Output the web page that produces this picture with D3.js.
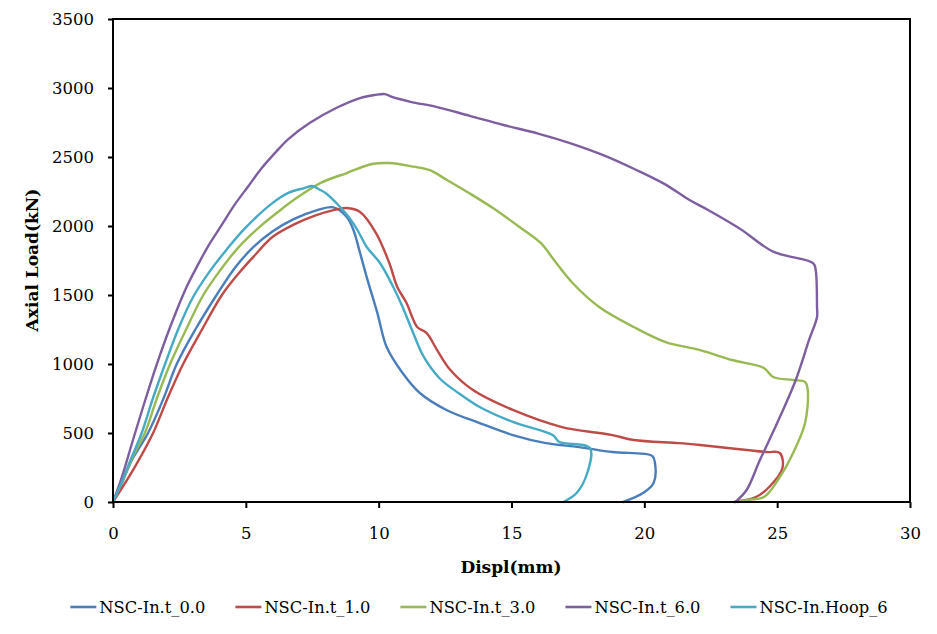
<!DOCTYPE html>
<html><head><meta charset="utf-8">
<script src="https://cdn.jsdelivr.net/npm/d3@7/dist/d3.min.js"></script>
<style>body{margin:0;background:#fff}svg{display:block}</style>
</head><body>
<svg id="c" width="937" height="634"></svg>
<script>
// ---- data ----
const seriesNames = ["NSC-In.t_0.0","NSC-In.t_1.0","NSC-In.t_3.0","NSC-In.t_6.0","NSC-In.Hoop_6"];
const xTicks = [0,5,10,15,20,25,30];
const yTicks = [0,500,1000,1500,2000,2500,3000,3500];

const displ_t00 = [0,0.3,0.7,1.32,1.9,2.4,3.1,3.9,4.6,5.3,6.0,6.8,7.6,8.3,8.8,9.05,9.3,9.55,9.95,10.3,10.9,11.55,12.55,13.8,15.05,16.3,17.55,18.8,20.3,20.4,20.35,19.95,19.2];
const load_t00  = [0,120,300,500,750,1000,1250,1500,1700,1850,1960,2050,2110,2135,2065,1971,1804,1630,1370,1123,935,790,667,572,485,427,398,362,333,283,138,65,0];

const displ_t10 = [0,0.4,0.9,1.51,2.05,2.64,3.35,4.1,4.7,5.3,6.0,6.8,7.6,8.3,8.8,9.3,9.9,10.4,10.7,11.05,11.45,11.8,12.2,12.7,13.55,15.05,16.9,18.3,18.8,19.6,21.3,22.1,23.85,24.6,25.1,25.2,24.7,24.2,23.6,23.4];
const load_t10  = [0,120,280,500,750,1000,1250,1500,1650,1780,1920,2010,2075,2115,2130,2101,1949,1732,1558,1442,1268,1225,1101,956,811,667,543,500,485,449,427,413,377,362,355,246,109,36,7,0];

const displ_t30 = [0,0.35,0.75,1.2,1.65,2.15,2.75,3.4,4.0,4.7,5.5,6.2,6.8,7.8,8.8,9.75,10.4,11.3,11.9,12.6,13.4,14.3,15.3,16.1,16.6,17.3,18.3,19.6,20.8,22.1,23.3,24.5,24.85,25.6,26.05,26.15,26.05,25.6,25.1,24.5,23.85,23.5];
const load_t30  = [0,150,330,500,750,1000,1250,1500,1670,1840,1990,2100,2188,2311,2384,2449,2456,2430,2406,2330,2239,2130,1993,1877,1754,1587,1413,1268,1159,1101,1029,971,906,884,870,812,572,355,181,36,14,0];

const displ_t60 = [0,0.3,0.8,1.2,1.6,2.0,2.4,2.8,3.2,3.6,4.1,4.6,5.1,5.6,6.1,6.6,7.4,8.4,9.3,9.85,10.24,10.5,11.2,12.2,13.4,14.7,16.0,17.2,18.5,19.7,20.8,21.7,22.4,23.6,24.85,26.36,26.45,26.5,26.5,26.2,25.7,25.0,24.35,23.85,23.5,23.4];
const load_t60  = [0,160,480,730,970,1190,1390,1570,1720,1860,2010,2160,2290,2420,2530,2630,2746,2855,2927,2949,2956,2935,2900,2862,2800,2732,2670,2601,2510,2406,2300,2188,2116,1980,1814,1730,1681,1413,1341,1174,884,572,304,87,14,0];

const displ_hoop = [0,0.3,0.65,1.08,1.5,1.96,2.45,3.0,3.6,4.28,5.0,6.0,6.6,7.2,7.5,7.8,8.0,8.55,8.9,9.2,9.55,10.05,10.55,10.9,11.3,11.7,12.3,13.0,13.8,15.05,16.55,16.8,17.95,17.85,17.45,16.95];
const load_hoop  = [0,130,300,500,750,1000,1250,1480,1660,1830,1990,2166,2240,2275,2290,2261,2239,2138,2058,1971,1848,1732,1558,1413,1225,1051,895,790,688,580,485,435,391,210,65,0];

const colors = ["#4A7EBB","#BE4B48","#98B954","#7D5FA0","#46AAC5"];

// ---- build ----
const series = [
  {name: seriesNames[0], x: displ_t00, y: load_t00},
  {name: seriesNames[1], x: displ_t10, y: load_t10},
  {name: seriesNames[2], x: displ_t30, y: load_t30},
  {name: seriesNames[3], x: displ_t60, y: load_t60},
  {name: seriesNames[4], x: displ_hoop, y: load_hoop}
];

const svg = d3.select("#c");
const L = 113, R = 910, T = 19, B = 502;
const x = d3.scaleLinear().domain([0,30]).range([L,R]);
const y = d3.scaleLinear().domain([0,3500]).range([B,T]);
const font = "'DejaVu Serif', serif";

const line = d3.line().x(d => x(d[0])).y(d => y(d[1])).curve(d3.curveCatmullRom.alpha(0.5));
const plot = svg.append("g");
series.forEach((s,i) => {
  const pts = s.x.map((v,k) => [v, s.y[k]]);
  plot.append("path").datum(pts).attr("d", line)
    .attr("fill","none").attr("stroke", colors[i]).attr("stroke-width", 2.4)
    .attr("stroke-linejoin","round").attr("stroke-linecap","round");
});

// axes
const xa = svg.append("g").attr("transform",`translate(0,${B})`)
  .call(d3.axisBottom(x).tickValues(xTicks).tickSize(6).tickPadding(19).tickFormat(d3.format("d")));
const ya = svg.append("g").attr("transform",`translate(${L},0)`)
  .call(d3.axisLeft(y).tickValues(yTicks).tickSize(5).tickPadding(14).tickFormat(d3.format("d")));
[xa, ya].forEach(a => {
  a.select(".domain").remove();
  a.selectAll("line").attr("stroke","#000").attr("stroke-width",2);
  a.selectAll("text").attr("fill","#000").style("font-family",font).style("font-size","16.5px");
});

svg.append("rect").attr("x",L).attr("y",T).attr("width",R-L).attr("height",B-T)
  .attr("fill","none").attr("stroke","#000").attr("stroke-width",2);

// axis titles
svg.append("text").attr("x", 511).attr("y", 573).attr("text-anchor","middle")
  .style("font-family",font).style("font-weight","bold").style("font-size","17px").text("Displ(mm)");
svg.append("text").attr("transform","translate(38,260) rotate(-90)").attr("text-anchor","middle")
  .style("font-family",font).style("font-weight","bold").style("font-size","17px").text("Axial Load(kN)");

// legend
const lg = svg.append("g");
const items = series.map((s,i) => {
  const g = lg.append("g");
  g.append("line").attr("x1",0).attr("x2",26).attr("y1",0).attr("y2",0)
    .attr("stroke",colors[i]).attr("stroke-width",2.6);
  const t = g.append("text").attr("x",29).attr("y",0).attr("dy","0.35em")
    .style("font-family",font).style("font-size","16.3px").attr("fill","#000").text(s.name);
  return {g, w: 29 + t.node().getComputedTextLength()};
});
const gap = 30;
const total = d3.sum(items, d => d.w) + gap*(items.length-1);
let cx = 479 - total/2;
items.forEach(it => { it.g.attr("transform",`translate(${cx},607)`); cx += it.w + gap; });
</script>
</body></html>
